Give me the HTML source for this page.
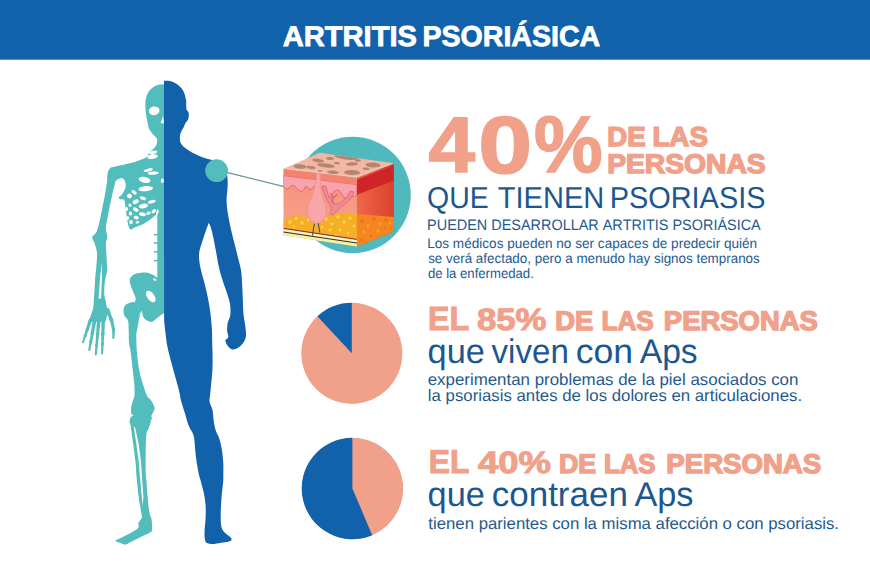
<!DOCTYPE html>
<html lang="es"><head><meta charset="utf-8"><title>Artritis psoriásica</title>
<style>html,body{margin:0;padding:0;background:#fff}body{width:870px;height:580px;overflow:hidden}svg{display:block}</style>
</head><body>
<svg width="870" height="580" viewBox="0 0 870 580">
<defs>
<linearGradient id="gR" x1="0" y1="0" x2="1" y2="0"><stop offset="0" stop-color="#f0684a"/><stop offset="1" stop-color="#d9402c"/></linearGradient>
<linearGradient id="gF" x1="0" y1="0" x2="0" y2="1"><stop offset="0" stop-color="#f68f79"/><stop offset="1" stop-color="#f9a58f"/></linearGradient>
<clipPath id="cFront"><path d="M283.5,168.7 L356.9,177.6 L356.9,246.4 L283.5,235.2 Z"/></clipPath>
<clipPath id="cRight"><path d="M356.9,177.6 L393.9,163.2 L393.9,231.4 L356.9,246.4 Z"/></clipPath>
<clipPath id="cTop"><path d="M283.5,168.7 L319.8,152.7 L393.9,163.2 L356.9,177.6 Z"/></clipPath>
</defs>
<rect width="870" height="580" fill="#fff"/>
<rect width="870" height="59.7" fill="#1162ab"/>
<g fill="#53bdbd">
<path d="M164.0,84.3C162.6,84.5 158.2,84.5 155.7,85.7C153.2,86.9 150.5,89.0 148.8,91.4C147.1,93.8 146.1,97.1 145.6,100.3C145.1,103.5 145.4,107.2 145.6,110.4C145.8,113.6 146.4,116.3 146.9,119.3C147.4,122.2 148.0,125.8 148.8,128.1C149.7,130.4 150.8,131.7 152.0,133.2C153.2,134.7 154.7,135.7 155.7,137.0C156.7,138.3 157.7,139.5 158.0,141.0C158.3,142.5 157.7,145.2 157.6,146.0C158.8,146.0 163.3,146.0 164.5,146.0C164.4,135.7 164.1,94.6 164.0,84.3Z"/>
<path d="M164.5,140.0C163.3,140.0 158.8,140.0 157.6,140.0C157.3,141.1 157.1,144.2 155.7,146.3C154.3,148.4 151.1,150.7 149.4,152.6C147.7,154.5 148.6,156.0 145.6,157.7C142.6,159.4 136.8,161.3 131.7,162.8C126.6,164.3 118.9,165.7 115.3,166.6C111.7,167.5 111.5,167.3 110.2,168.4C108.9,169.5 108.1,171.0 107.7,172.9C107.3,174.8 106.9,178.4 107.6,180.0C108.3,181.6 110.6,182.4 112.0,182.5C113.4,182.6 114.4,181.3 116.0,180.5C117.6,179.7 119.9,177.9 121.4,177.9C122.9,177.9 124.1,179.1 124.8,180.7C125.5,182.3 126.0,185.3 125.5,187.6C125.0,189.9 123.2,192.9 122.0,194.5C120.8,196.1 119.2,196.8 118.6,197.2C118.8,197.5 119.1,198.8 120.0,199.3C120.9,199.8 123.2,198.7 124.1,200.0C125.0,201.3 125.0,203.9 125.5,206.9C126.0,209.9 126.3,214.5 126.9,217.9C127.5,221.3 128.3,225.6 129.0,227.6C129.7,229.6 130.7,229.3 131.0,229.7C131.8,229.3 133.6,228.0 135.6,227.1C137.6,226.2 140.7,225.4 143.2,224.0C145.7,222.6 148.7,220.4 150.8,218.9C152.9,217.4 154.6,216.2 155.9,215.1C157.2,214.0 157.0,213.1 158.4,212.6C159.8,212.1 163.5,212.1 164.5,212.0C164.5,200.0 164.5,152.0 164.5,140.0Z"/>
<rect x="157.3" y="140" width="7.2" height="140"/>
<rect x="153.9" y="233.9" width="4.5" height="1.5"/>
<rect x="153.9" y="242.2" width="4.5" height="1.5"/>
<rect x="153.9" y="251.1" width="4.5" height="1.5"/>
<rect x="153.9" y="259.9" width="4.5" height="1.5"/>
<path d="M112.0,167.5C110.7,167.2 109.7,168.3 109.0,170.0C108.3,171.7 108.2,174.3 107.6,177.9C107.0,181.5 106.3,187.1 105.5,191.7C104.7,196.3 103.7,200.9 102.8,205.5C101.9,210.1 101.0,214.9 100.0,219.3C99.0,223.7 97.9,228.8 96.6,231.7C95.3,234.6 93.0,235.2 92.4,236.6C91.8,238.0 92.7,238.9 93.0,240.0C93.3,241.1 93.8,240.8 94.5,243.0C95.2,245.2 96.7,249.2 97.0,253.0C97.3,256.8 96.7,261.5 96.4,265.7C96.1,269.9 95.5,274.3 95.2,278.0C94.9,281.7 94.8,285.0 94.6,288.0C94.4,291.0 94.2,293.7 94.1,296.0C93.9,298.3 93.8,300.0 93.7,302.0C93.6,304.0 93.6,306.0 93.2,308.0C92.8,310.0 92.1,311.7 91.3,314.0C90.5,316.3 88.8,320.5 88.3,321.8C91.1,321.9 102.5,322.1 105.3,322.2C105.7,320.8 107.2,316.5 107.4,314.0C107.7,311.5 107.1,309.3 106.8,307.0C106.5,304.7 105.8,302.2 105.4,300.0C105.0,297.8 104.4,296.9 104.3,294.0C104.2,291.1 104.2,286.6 104.7,282.6C105.2,278.6 106.9,273.4 107.2,270.0C107.5,266.6 106.9,264.4 106.8,262.0C106.7,259.6 106.7,258.8 106.5,255.6C106.3,252.4 105.8,246.1 105.9,243.0C106.1,239.9 107.4,239.5 107.4,237.2C107.4,234.9 105.9,232.0 105.9,229.0C105.9,226.0 106.5,223.2 107.2,219.3C107.9,215.4 109.0,210.1 109.9,205.5C110.9,200.9 112.0,195.8 112.9,191.7C113.9,187.6 114.9,184.0 115.6,180.7C116.3,177.4 117.6,174.2 117.0,172.0C116.4,169.8 113.3,167.8 112.0,167.5Z"/>
<path d="M164.5,273.0C163.4,273.8 159.9,277.2 158.0,277.5C156.1,277.8 155.4,275.8 153.3,275.0C151.2,274.2 148.6,272.7 145.7,272.5C142.8,272.3 138.1,272.9 135.6,273.8C133.1,274.7 131.5,276.1 130.6,277.6C129.7,279.1 129.6,280.5 129.9,282.6C130.2,284.7 131.6,287.7 132.5,290.2C133.4,292.7 135.2,295.7 135.6,297.8C136.0,299.9 134.6,301.3 135.0,303.0C135.4,304.7 137.2,306.2 138.0,308.0C138.8,309.8 139.1,313.1 139.8,313.5C140.5,313.9 141.6,311.0 142.0,310.5C142.2,311.6 142.4,315.1 143.2,316.8C144.0,318.5 145.5,319.8 147.0,320.6C148.5,321.4 150.4,322.2 152.1,321.8C153.8,321.4 155.4,319.3 157.1,318.0C158.8,316.7 161.0,315.0 162.2,314.2C163.4,313.4 164.1,313.2 164.5,313.0C164.5,306.3 164.5,279.7 164.5,273.0Z"/>
<path d="M135.0,302.5C132.9,301.0 128.7,303.0 126.8,304.1C124.9,305.2 124.0,307.3 123.6,309.2C123.2,311.1 123.6,313.6 124.3,315.5C125.0,317.4 127.3,318.1 128.0,320.6C128.7,323.1 128.5,327.0 128.7,330.7C128.9,334.4 128.7,339.6 129.0,343.0C129.3,346.4 130.0,347.2 130.6,351.4C131.2,355.5 131.9,362.2 132.5,367.9C133.1,373.6 134.1,380.9 134.4,385.6C134.7,390.3 134.6,393.6 134.4,396.0C134.2,398.4 133.6,398.1 133.1,400.0C132.6,401.9 131.5,405.3 131.2,407.6C130.9,409.9 131.2,412.8 131.2,413.9C131.6,414.2 133.1,415.2 133.5,415.5C133.0,415.8 131.3,416.2 130.6,417.5C129.9,418.8 129.5,422.4 129.3,423.4C129.5,423.6 129.8,421.0 130.4,424.5C131.1,428.0 132.3,437.9 133.2,444.3C134.1,450.8 135.0,457.9 135.6,463.2C136.2,468.5 136.0,470.5 136.5,476.0C137.0,481.5 137.9,490.9 138.6,496.4C139.3,501.9 140.1,505.8 140.6,509.0C141.1,512.2 141.7,513.9 141.8,515.5C142.0,517.1 142.1,517.2 141.5,518.5C140.9,519.8 139.0,521.4 138.4,523.0C137.8,524.6 139.5,526.3 138.2,528.0C136.9,529.7 133.3,531.5 130.6,533.1C127.8,534.7 124.2,536.2 121.7,537.5C119.2,538.8 115.6,539.8 115.4,540.7C115.2,541.6 118.8,542.3 120.5,542.9C122.2,543.5 123.8,544.6 125.5,544.5C127.2,544.4 128.1,543.3 130.6,542.0C133.1,540.7 137.4,538.5 140.7,536.9C144.0,535.3 148.3,533.8 150.2,532.5C152.1,531.2 151.9,531.5 152.1,529.3C152.3,527.1 151.9,521.5 151.6,519.2C151.3,516.9 150.6,517.1 150.2,515.4C149.8,513.7 149.3,512.2 148.9,509.0C148.5,505.8 148.0,501.2 147.6,496.4C147.2,491.6 146.7,483.9 146.4,480.0C146.1,476.1 145.8,477.9 145.7,473.0C145.6,468.1 145.6,457.1 145.7,450.6C145.8,444.1 145.9,437.9 146.4,434.1C146.9,430.3 148.0,430.5 148.9,427.8C149.8,425.1 151.4,420.0 151.8,418.0C152.2,416.0 150.9,417.4 151.4,415.8C151.9,414.2 154.7,410.8 154.6,408.2C154.5,405.6 152.1,402.1 150.8,400.0C149.5,397.9 148.4,398.5 147.0,395.7C145.6,392.9 144.0,387.6 142.6,383.0C141.2,378.4 139.8,373.2 138.8,367.9C137.9,362.6 137.3,356.9 136.9,351.4C136.5,345.9 136.3,338.4 136.3,335.0C136.3,331.6 136.5,333.1 136.9,330.7C137.3,328.3 138.4,323.6 138.8,320.6C139.2,317.7 140.2,316.0 139.6,313.0C139.0,310.0 137.1,304.0 135.0,302.5Z"/>
</g>
<g fill="#53bdbd">
<path d="M88.9,318.9 L82.1,341.9 L83.9,342.5 L92.3,320.1 Z"/>
<circle cx="83.0" cy="342.2" r="1.00"/>
<circle cx="87.4" cy="329.0" r="1.81"/>
<circle cx="85.1" cy="335.8" r="1.57"/>
<path d="M92.8,320.2 L88.3,349.8 L90.3,350.2 L96.4,320.8 Z"/>
<circle cx="89.3" cy="350.0" r="1.00"/>
<circle cx="92.4" cy="332.9" r="1.84"/>
<circle cx="90.8" cy="341.7" r="1.59"/>
<path d="M97.0,320.3 L94.8,354.5 L96.8,354.7 L100.6,320.7 Z"/>
<circle cx="95.8" cy="354.6" r="1.00"/>
<circle cx="97.5" cy="334.8" r="1.84"/>
<circle cx="96.6" cy="345.1" r="1.59"/>
<path d="M101.5,319.4 L101.1,353.4 L103.1,353.4 L105.1,319.6 Z"/>
<circle cx="102.1" cy="353.4" r="1.00"/>
<circle cx="102.8" cy="333.7" r="1.84"/>
<circle cx="102.4" cy="343.9" r="1.59"/>
<path d="M105.2,309.2 L110.1,321.1 L113.1,319.9 L108.8,307.8 Z"/>
<circle cx="111.6" cy="320.5" r="1.60"/>
<circle cx="111.1" cy="319.3" r="1.98"/>
<path d="M110.0,320.8 L112.2,330.3 L115.0,329.7 L113.2,320.2 Z"/>
<circle cx="113.6" cy="330.0" r="1.40"/>
<circle cx="113.5" cy="329.5" r="1.76"/>
<path d="M112.2,330.0 L112.4,338.0 L114.4,338.0 L115.0,330.0 Z"/>
<circle cx="113.4" cy="338.0" r="1.00"/>
</g>
<ellipse cx="154.2" cy="110.8" rx="5.3" ry="4.3" transform="rotate(-12 154.2 110.8)" fill="#fff"/>
<path d="M163,116.3 L160.6,123 L164.2,123.6 Z" fill="#fff"/>
<ellipse cx="153.2" cy="152.4" rx="4.1" ry="1.6" transform="rotate(-12 153.2 152.4)" fill="#fff"/>
<ellipse cx="152.4" cy="156.6" rx="5.4" ry="2.3" transform="rotate(-8 152.4 156.6)" fill="#fff"/>
<ellipse cx="148.2" cy="170.1" rx="4.8" ry="1.5" transform="rotate(-15 148.2 170.1)" fill="#fff"/>
<ellipse cx="153.2" cy="173.1" rx="5.4" ry="1.6" transform="rotate(-3 153.2 173.1)" fill="#fff"/>
<ellipse cx="144.6" cy="179.8" rx="6.0" ry="2.9" transform="rotate(12 144.6 179.8)" fill="#fff"/>
<ellipse cx="162.4" cy="180.7" rx="1.5" ry="2.3" transform="rotate(0 162.4 180.7)" fill="#fff"/>
<ellipse cx="145.8" cy="188.7" rx="7.3" ry="2.6" transform="rotate(-5 145.8 188.7)" fill="#fff"/>
<ellipse cx="134.1" cy="192.4" rx="3.0" ry="1.6" transform="rotate(35 134.1 192.4)" fill="#fff"/>
<ellipse cx="129.5" cy="196.0" rx="2.5" ry="2.4" transform="rotate(40 129.5 196.0)" fill="#fff"/>
<ellipse cx="142.9" cy="198.3" rx="3.2" ry="1.6" transform="rotate(20 142.9 198.3)" fill="#fff"/>
<ellipse cx="135.7" cy="201.7" rx="3.2" ry="2.1" transform="rotate(-25 135.7 201.7)" fill="#fff"/>
<ellipse cx="151.7" cy="201.7" rx="4.0" ry="1.6" transform="rotate(-15 151.7 201.7)" fill="#fff"/>
<ellipse cx="143.4" cy="206.0" rx="4.6" ry="2.2" transform="rotate(-10 143.4 206.0)" fill="#fff"/>
<ellipse cx="130.0" cy="205.2" rx="1.5" ry="1.7" transform="rotate(0 130.0 205.2)" fill="#fff"/>
<ellipse cx="126.9" cy="209.1" rx="1.2" ry="2.0" transform="rotate(0 126.9 209.1)" fill="#fff"/>
<ellipse cx="135.7" cy="209.6" rx="3.1" ry="1.8" transform="rotate(30 135.7 209.6)" fill="#fff"/>
<ellipse cx="130.5" cy="213.5" rx="1.8" ry="2.0" transform="rotate(0 130.5 213.5)" fill="#fff"/>
<ellipse cx="142.4" cy="214.3" rx="3.5" ry="1.8" transform="rotate(15 142.4 214.3)" fill="#fff"/>
<ellipse cx="127.9" cy="217.9" rx="1.2" ry="2.0" transform="rotate(0 127.9 217.9)" fill="#fff"/>
<ellipse cx="136.2" cy="217.6" rx="2.6" ry="1.8" transform="rotate(15 136.2 217.6)" fill="#fff"/>
<ellipse cx="131.0" cy="222.1" rx="1.9" ry="2.1" transform="rotate(0 131.0 222.1)" fill="#fff"/>
<ellipse cx="137.5" cy="222.3" rx="1.9" ry="1.3" transform="rotate(-10 137.5 222.3)" fill="#fff"/>
<ellipse cx="148.5" cy="213.2" rx="2.4" ry="1.5" transform="rotate(-25 148.5 213.2)" fill="#fff"/>
<ellipse cx="153.8" cy="211.2" rx="2.6" ry="1.7" transform="rotate(-40 153.8 211.2)" fill="#fff"/>
<ellipse cx="157.4" cy="212.2" rx="1.1" ry="2.8" transform="rotate(15 157.4 212.2)" fill="#fff"/>
<ellipse cx="150.8" cy="296.5" rx="3.6" ry="6.6" transform="rotate(-35 150.8 296.5)" fill="#fff"/>
<ellipse cx="154.8" cy="279.6" rx="1.8" ry="1.1" transform="rotate(30 154.8 279.6)" fill="#fff"/>
<path d="M101.9,263 L102.0,276 L101.1,298.6 L98.6,298.6 L100.2,276 Z" fill="#fff"/>
<path d="M133.6,426 L136.4,444 L138.9,463 L139.9,476 L141.8,497 L142.6,506 L143.4,497 L141.9,476 L141.2,463 L138.7,444 L135.2,428 Z" fill="#fff"/>
<path d="M164.0,80.7C165.0,80.8 168.0,80.5 170.0,81.0C172.0,81.5 174.2,82.5 176.0,83.6C177.8,84.6 179.2,85.9 180.5,87.3C181.8,88.7 182.9,89.8 183.8,92.0C184.7,94.2 185.7,97.5 186.1,100.3C186.5,103.1 186.0,107.0 186.4,109.1C186.8,111.2 188.4,111.2 188.7,112.9C189.0,114.6 188.7,117.6 188.2,119.3C187.7,121.0 186.3,121.6 185.5,123.0C184.7,124.4 184.2,126.2 183.6,127.5C183.0,128.8 182.3,129.4 181.7,130.8C181.1,132.2 180.2,133.8 180.0,135.7C179.8,137.6 179.7,140.2 180.3,142.0C180.9,143.8 181.7,144.9 183.4,146.5C185.1,148.1 187.8,149.9 190.4,151.5C193.1,153.1 196.4,154.6 199.3,155.9C202.2,157.2 205.3,158.2 208.1,159.1C210.9,159.9 213.6,160.0 216.0,161.0C218.4,162.0 220.8,163.3 222.5,165.0C224.2,166.7 225.5,168.5 226.3,171.0C227.2,173.5 227.4,176.8 227.6,180.0C227.8,183.2 227.6,186.7 227.4,190.0C227.2,193.3 226.6,196.2 226.6,200.0C226.6,203.8 227.0,207.8 227.7,212.6C228.4,217.4 229.7,223.7 230.9,229.0C232.1,234.3 233.5,239.7 234.7,244.3C235.8,249.0 236.8,252.6 237.8,256.9C238.9,261.2 240.3,265.3 241.0,270.0C241.7,274.7 241.9,279.9 242.2,285.2C242.5,290.5 242.7,296.8 242.9,301.6C243.1,306.5 243.1,310.1 243.5,314.3C243.9,318.5 245.0,323.3 245.4,326.9C245.8,330.5 246.3,333.1 246.0,335.7C245.7,338.3 244.8,340.6 243.5,342.6C242.2,344.6 240.3,346.5 238.4,347.6C236.5,348.8 234.0,349.9 232.1,349.5C230.2,349.1 228.2,346.7 227.1,345.1C225.9,343.5 225.5,340.9 225.2,340.0C225.7,339.5 228.0,338.6 228.3,337.0C228.6,335.4 227.2,333.0 227.1,330.7C227.0,328.4 227.2,325.6 227.7,323.1C228.2,320.6 229.8,318.4 230.2,315.5C230.6,312.6 230.6,308.8 230.2,305.4C229.8,302.0 228.8,299.1 227.7,295.3C226.5,291.5 224.7,286.8 223.3,282.6C221.9,278.4 220.6,274.3 219.5,270.0C218.4,265.7 217.8,261.4 217.0,256.9C216.2,252.4 215.3,247.7 214.4,243.0C213.5,238.3 212.2,232.4 211.3,229.0C210.4,225.6 209.1,223.8 208.7,222.8C208.2,224.3 206.8,228.2 205.6,231.6C204.4,235.0 202.9,239.6 201.8,243.0C200.8,246.4 199.7,248.9 199.3,251.8C198.9,254.8 199.0,257.5 199.3,260.7C199.6,263.9 200.4,267.4 201.2,271.0C202.0,274.6 203.2,277.9 204.3,282.6C205.5,287.3 207.1,293.7 208.1,299.0C209.1,304.3 210.0,309.2 210.6,314.3C211.2,319.4 211.6,324.6 211.9,329.4C212.2,334.2 212.1,339.3 212.2,343.0C212.3,346.7 212.4,347.2 212.5,351.4C212.6,355.5 212.7,362.6 212.5,367.9C212.3,373.2 211.7,378.4 211.3,383.0C210.9,387.6 210.3,392.5 210.0,395.7C209.7,398.9 209.2,399.6 209.6,402.0C210.0,404.4 211.8,406.9 212.5,410.1C213.2,413.4 213.3,418.1 213.8,421.5C214.3,424.9 214.8,427.4 215.7,430.3C216.6,433.2 218.4,435.8 219.5,439.2C220.6,442.6 221.4,446.6 222.0,450.6C222.6,454.6 223.1,459.5 223.3,463.2C223.5,466.9 223.3,470.2 223.3,473.0C223.3,475.8 223.5,476.7 223.3,480.0C223.1,483.3 222.4,488.4 222.0,492.6C221.6,496.8 221.2,501.1 221.0,505.3C220.8,509.5 220.6,514.3 220.7,517.9C220.8,521.5 220.9,524.5 221.4,526.8C221.9,529.1 222.8,530.3 223.9,531.8C225.1,533.3 227.0,534.4 228.3,535.6C229.6,536.8 231.3,537.8 231.5,538.8C231.7,539.8 231.0,540.7 229.6,541.3C228.2,541.9 225.8,542.2 223.3,542.6C220.8,543.0 217.0,543.8 214.4,543.9C211.8,544.0 209.1,544.0 207.5,543.2C205.9,542.5 205.4,541.5 204.9,539.4C204.4,537.3 204.5,534.2 204.6,530.6C204.7,527.0 205.4,522.1 205.6,517.9C205.8,513.7 205.9,509.5 205.6,505.3C205.3,501.1 204.5,496.8 203.7,492.6C202.8,488.4 201.3,483.3 200.5,480.0C199.7,476.7 199.3,476.6 198.6,473.0C197.9,469.4 196.7,462.8 196.1,458.2C195.5,453.6 195.2,449.3 194.8,445.5C194.4,441.7 194.7,438.8 193.6,435.4C192.5,432.0 190.0,429.1 188.5,425.3C187.0,421.5 186.0,416.8 184.7,412.6C183.4,408.4 181.8,403.7 180.9,400.0C180.0,396.3 179.9,394.5 179.0,390.6C178.1,386.7 176.5,381.3 175.2,376.7C173.9,372.1 172.7,367.6 171.4,362.8C170.1,358.0 168.6,352.2 167.6,347.6C166.6,343.0 166.3,339.5 165.7,335.0C165.1,330.5 164.4,323.0 164.1,320.6C164.1,280.6 164.0,120.7 164.0,80.7Z" fill="#1162ab"/>
<circle cx="216.6" cy="170.7" r="11.4" fill="#53bdbd"/>
<line x1="227.6" y1="172.6" x2="284" y2="186.6" stroke="#6f9494" stroke-width="1.3"/>
<circle cx="352.6" cy="195" r="58.2" fill="#4fb9be"/>
<g clip-path="url(#cRight)">
<rect x="356" y="160" width="40" height="90" fill="url(#gR)"/>
<path d="M356.9,179.6 L393.9,165.2 L393.9,180.5 L356.9,194.8 Z" fill="#cf2529"/>
<path d="M356.9,214 L393.9,217 L393.9,232 L356.9,247 Z" fill="#f4851f"/>
<circle cx="362.0" cy="221.0" r="1.6" fill="#e8701a"/>
<circle cx="368.0" cy="226.0" r="1.3" fill="#f9a33a"/>
<circle cx="374.0" cy="219.0" r="1.7" fill="#e8701a"/>
<circle cx="380.0" cy="224.0" r="1.4" fill="#f9a33a"/>
<circle cx="386.0" cy="220.0" r="1.5" fill="#e8701a"/>
<circle cx="364.0" cy="232.0" r="1.5" fill="#f9a33a"/>
<circle cx="371.0" cy="236.0" r="1.2" fill="#e8701a"/>
<circle cx="378.0" cy="231.0" r="1.5" fill="#f9a33a"/>
<circle cx="385.0" cy="228.0" r="1.2" fill="#e8701a"/>
<circle cx="390.0" cy="223.0" r="1.1" fill="#f9a33a"/>
<circle cx="362.0" cy="240.0" r="1.2" fill="#e8701a"/>
</g>
<g clip-path="url(#cFront)">
<rect x="283" y="165" width="75" height="85" fill="url(#gF)"/>
<path d="M283.5,175.6 L356.9,184.6 L356.9,194 Q353.5,199.5 350,193.5 Q346.5,203 341.5,194 Q338,187.5 334,191.5 Q330,201.5 326,192 Q324.5,188.5 322.5,188 L313.5,186.8 Q310.5,192.5 306,186 Q301.5,196 296.5,188 Q292,182.5 288.5,188.5 Q286,190.5 283.5,186 Z" fill="#f9a3ad" stroke="#e5626f" stroke-width="0.9"/>
<path d="M283.5,169 L356.9,178 L356.9,184.6 L283.5,175.6 Z" fill="#f3836e"/>
<path d="M283.5,221 Q292,214 300,216 Q308,217 313,222 L320,222 Q328,213 340,213 Q350,213 356.9,214.5 L356.9,239 L283.5,228 Z" fill="#f6ae24"/>
<circle cx="290.0" cy="222.0" r="1.8" fill="#fbd352"/>
<circle cx="296.0" cy="218.5" r="1.6" fill="#fbd352"/>
<circle cx="302.0" cy="223.0" r="1.7" fill="#fbd352"/>
<circle cx="308.0" cy="220.0" r="1.4" fill="#fbd352"/>
<circle cx="326.0" cy="219.0" r="1.8" fill="#fbd352"/>
<circle cx="332.0" cy="224.0" r="1.6" fill="#fbd352"/>
<circle cx="338.0" cy="217.0" r="1.8" fill="#fbd352"/>
<circle cx="344.0" cy="222.0" r="1.7" fill="#fbd352"/>
<circle cx="350.0" cy="218.0" r="1.6" fill="#fbd352"/>
<circle cx="354.0" cy="226.0" r="1.5" fill="#fbd352"/>
<circle cx="330.0" cy="230.0" r="1.5" fill="#fbd352"/>
<circle cx="340.0" cy="230.0" r="1.6" fill="#fbd352"/>
<circle cx="348.0" cy="233.0" r="1.4" fill="#fbd352"/>
<circle cx="294.0" cy="226.5" r="1.3" fill="#fbd352"/>
<circle cx="322.0" cy="227.0" r="1.4" fill="#fbd352"/>
<circle cx="336.0" cy="235.0" r="1.2" fill="#fbd352"/>
<path d="M283.5,227.8 L356.9,238.8 L356.9,247 L283.5,236 Z" fill="#f7f0a0"/>
<path d="M283.5,228.3 L356.9,239.3" stroke="#a8331f" stroke-width="1.2"/>
<path d="M283.5,230.2 L356.9,241.2" stroke="#fff6e0" stroke-width="1.2"/>
<path d="M283.5,232 L356.9,243" stroke="#2e2e30" stroke-width="1.1"/>
<path d="M322,186 Q324,196 329,203 Q333,209 330,214 L333,215 Q338,209 345,204 Q352,199 354,192 L350,191 Q347,199 340,203 Q334,206 330,199 Q327,193 326,186 Z" fill="#ee8a93" stroke="#e0646f" stroke-width="0.8"/>
<path d="M330,193 q3,2 2,5 q4,-1 5,-4 M333,198 q-1,4 1,6" stroke="#df6470" stroke-width="1.3" fill="none"/>
<path d="M316.6,173 L320.2,173.5 Q320.5,190 322.5,197 Q327.5,207 326,215 Q323,224 316,223.6 Q308.5,222 307.5,213 Q307,205 311.5,197 Q315.5,190 316.6,173 Z" fill="#f9a6a8" stroke="#ef8e8e" stroke-width="0.8"/>
<path d="M314.3,223.8 L312.5,235.6 M318.3,223.4 L319.8,232.6" stroke="#3a4658" stroke-width="1"/>
</g>
<g clip-path="url(#cTop)">
<rect x="280" y="150" width="116" height="30" fill="#f2b8a5"/>
<path d="M283.5,168.7 L356.9,177.6 L393.9,163.2" stroke="#f8c7b3" stroke-width="2" fill="none"/>
<ellipse cx="300.0" cy="166.5" rx="6.5" ry="2.2" transform="rotate(5 300.0 166.5)" fill="#b5866f"/>
<ellipse cx="311.0" cy="167.5" rx="4.5" ry="1.6" transform="rotate(8 311.0 167.5)" fill="#b5866f"/>
<ellipse cx="318.0" cy="160.5" rx="6.0" ry="1.8" transform="rotate(8 318.0 160.5)" fill="#b5866f"/>
<ellipse cx="330.0" cy="158.5" rx="4.0" ry="1.5" transform="rotate(5 330.0 158.5)" fill="#b5866f"/>
<ellipse cx="326.0" cy="165.5" rx="9.0" ry="2.1" transform="rotate(6 326.0 165.5)" fill="#b5866f"/>
<ellipse cx="346.0" cy="157.5" rx="12.0" ry="1.9" transform="rotate(7 346.0 157.5)" fill="#b5866f"/>
<ellipse cx="337.0" cy="163.2" rx="3.0" ry="1.1" transform="rotate(5 337.0 163.2)" fill="#b5866f"/>
<ellipse cx="352.0" cy="164.0" rx="6.0" ry="1.7" transform="rotate(-3 352.0 164.0)" fill="#b5866f"/>
<ellipse cx="333.0" cy="172.3" rx="6.0" ry="1.7" transform="rotate(5 333.0 172.3)" fill="#b5866f"/>
<ellipse cx="352.0" cy="172.5" rx="8.0" ry="2.5" transform="rotate(3 352.0 172.5)" fill="#b5866f"/>
<ellipse cx="373.0" cy="165.0" rx="7.5" ry="2.5" transform="rotate(3 373.0 165.0)" fill="#b5866f"/>
<ellipse cx="366.0" cy="168.8" rx="3.5" ry="1.2" transform="rotate(3 366.0 168.8)" fill="#b5866f"/>
<ellipse cx="320.0" cy="171.0" rx="2.0" ry="0.9" transform="rotate(0 320.0 171.0)" fill="#b5866f"/>
<ellipse cx="358.0" cy="160.5" rx="3.0" ry="1.2" transform="rotate(0 358.0 160.5)" fill="#b5866f"/>
</g>
<circle cx="351.8" cy="353.3" r="50.0" fill="#f1a08a"/>
<path d="M351.80,353.30 L351.80,302.80 A50.50,50.50 0 1 1 317.36,316.37 Z" fill="#f1a08a"/>
<path d="M351.80,353.30 L317.36,316.37 A50.50,50.50 0 0 1 351.80,302.80 Z" fill="#1162ab"/>
<circle cx="352.4" cy="488.5" r="50.2" fill="#1162ab"/>
<path d="M352.40,488.50 L372.21,535.17 A50.70,50.70 0 1 1 352.40,437.80 Z" fill="#1162ab"/>
<path d="M352.40,488.50 L352.40,437.80 A50.70,50.70 0 0 1 372.21,535.17 Z" fill="#f1a08a"/>
<g style="font-kerning:none;text-rendering:geometricPrecision">
<text x="282.78" y="46.40" font-size="28.63" fill="#fff" font-family="Liberation Sans, Arial, sans-serif" font-weight="700" stroke="#fff" stroke-width="0.80" stroke-linejoin="miter" textLength="134.16" lengthAdjust="spacingAndGlyphs">ARTRITIS</text>
<text x="422.49" y="46.40" font-size="28.63" fill="#fff" font-family="Liberation Sans, Arial, sans-serif" font-weight="700" stroke="#fff" stroke-width="0.80" stroke-linejoin="miter" textLength="177.66" lengthAdjust="spacingAndGlyphs">PSORIÁSICA</text>
<text x="428.63" y="171.80" font-size="78.63" fill="#f1a08a" font-family="Liberation Sans, Arial, sans-serif" font-weight="700" stroke="#f1a08a" stroke-width="1.60" stroke-linejoin="miter" textLength="46.52" lengthAdjust="spacingAndGlyphs">4</text>
<text x="478.37" y="172.50" font-size="80.81" fill="#f1a08a" font-family="Liberation Sans, Arial, sans-serif" font-weight="700" stroke="#f1a08a" stroke-width="1.60" stroke-linejoin="miter" textLength="53.79" lengthAdjust="spacingAndGlyphs">0</text>
<text x="534.08" y="172.20" font-size="80.23" fill="#f1a08a" font-family="Liberation Sans, Arial, sans-serif" font-weight="700" stroke="#f1a08a" stroke-width="1.60" stroke-linejoin="miter" textLength="68.55" lengthAdjust="spacingAndGlyphs">%</text>
<text x="607.25" y="145.80" font-size="27.18" fill="#f1a08a" font-family="Liberation Sans, Arial, sans-serif" font-weight="700" stroke="#f1a08a" stroke-width="1.40" stroke-linejoin="miter" textLength="38.43" lengthAdjust="spacingAndGlyphs">DE</text>
<text x="652.45" y="145.80" font-size="27.18" fill="#f1a08a" font-family="Liberation Sans, Arial, sans-serif" font-weight="700" stroke="#f1a08a" stroke-width="1.40" stroke-linejoin="miter" textLength="55.44" lengthAdjust="spacingAndGlyphs">LAS</text>
<text x="607.21" y="172.90" font-size="26.89" fill="#f1a08a" font-family="Liberation Sans, Arial, sans-serif" font-weight="700" stroke="#f1a08a" stroke-width="1.40" stroke-linejoin="miter" textLength="158.49" lengthAdjust="spacingAndGlyphs">PERSONAS</text>
<text x="427.05" y="207.50" font-size="30.23" fill="#1c588f" font-family="Liberation Sans, Arial, sans-serif" textLength="61.67" lengthAdjust="spacingAndGlyphs">QUE</text>
<text x="497.65" y="207.50" font-size="30.23" fill="#1c588f" font-family="Liberation Sans, Arial, sans-serif" textLength="106.73" lengthAdjust="spacingAndGlyphs">TIENEN</text>
<text x="609.63" y="207.50" font-size="30.23" fill="#1c588f" font-family="Liberation Sans, Arial, sans-serif" textLength="155.90" lengthAdjust="spacingAndGlyphs">PSORIASIS</text>
<text x="427.12" y="229.60" font-size="15.12" fill="#245a8e" font-family="Liberation Sans, Arial, sans-serif" textLength="333.61" lengthAdjust="spacingAndGlyphs">PUEDEN DESARROLLAR ARTRITIS PSORIÁSICA</text>
<text x="427.19" y="247.60" font-size="13.81" fill="#245a8e" font-family="Liberation Sans, Arial, sans-serif" textLength="330.00" lengthAdjust="spacingAndGlyphs">Los médicos pueden no ser capaces de predecir quién</text>
<text x="428.13" y="262.80" font-size="13.81" fill="#245a8e" font-family="Liberation Sans, Arial, sans-serif" textLength="331.66" lengthAdjust="spacingAndGlyphs">se verá afectado, pero a menudo hay signos tempranos</text>
<text x="427.95" y="278.00" font-size="13.81" fill="#245a8e" font-family="Liberation Sans, Arial, sans-serif" textLength="105.85" lengthAdjust="spacingAndGlyphs">de la enfermedad.</text>
<text x="428.04" y="329.80" font-size="33.43" fill="#f1a08a" font-family="Liberation Sans, Arial, sans-serif" font-weight="700" stroke="#f1a08a" stroke-width="1.00" stroke-linejoin="miter" textLength="41.25" lengthAdjust="spacingAndGlyphs">EL</text>
<text x="477.00" y="329.90" font-size="30.81" fill="#f1a08a" font-family="Liberation Sans, Arial, sans-serif" font-weight="700" stroke="#f1a08a" stroke-width="1.00" stroke-linejoin="miter" textLength="69.42" lengthAdjust="spacingAndGlyphs">85%</text>
<text x="555.37" y="329.60" font-size="27.03" fill="#f1a08a" font-family="Liberation Sans, Arial, sans-serif" font-weight="700" stroke="#f1a08a" stroke-width="1.40" stroke-linejoin="miter" textLength="38.00" lengthAdjust="spacingAndGlyphs">DE</text>
<text x="601.46" y="329.60" font-size="27.03" fill="#f1a08a" font-family="Liberation Sans, Arial, sans-serif" font-weight="700" stroke="#f1a08a" stroke-width="1.40" stroke-linejoin="miter" textLength="52.16" lengthAdjust="spacingAndGlyphs">LAS</text>
<text x="663.86" y="329.60" font-size="27.03" fill="#f1a08a" font-family="Liberation Sans, Arial, sans-serif" font-weight="700" stroke="#f1a08a" stroke-width="1.40" stroke-linejoin="miter" textLength="154.01" lengthAdjust="spacingAndGlyphs">PERSONAS</text>
<text x="427.56" y="363.30" font-size="34.30" fill="#1c588f" font-family="Liberation Sans, Arial, sans-serif" textLength="57.27" lengthAdjust="spacingAndGlyphs">que</text>
<text x="491.59" y="363.30" font-size="34.30" fill="#1c588f" font-family="Liberation Sans, Arial, sans-serif" textLength="77.26" lengthAdjust="spacingAndGlyphs">viven</text>
<text x="575.69" y="363.30" font-size="34.30" fill="#1c588f" font-family="Liberation Sans, Arial, sans-serif" textLength="57.43" lengthAdjust="spacingAndGlyphs">con</text>
<text x="639.73" y="363.30" font-size="34.30" fill="#1c588f" font-family="Liberation Sans, Arial, sans-serif" textLength="57.98" lengthAdjust="spacingAndGlyphs">Aps</text>
<text x="427.68" y="385.00" font-size="16.50" fill="#245a8e" font-family="Liberation Sans, Arial, sans-serif" textLength="370.71" lengthAdjust="spacingAndGlyphs">experimentan problemas de la piel asociados con</text>
<text x="427.87" y="400.70" font-size="16.50" fill="#245a8e" font-family="Liberation Sans, Arial, sans-serif" textLength="374.26" lengthAdjust="spacingAndGlyphs">la psoriasis antes de los dolores en articulaciones.</text>
<text x="428.87" y="472.90" font-size="33.14" fill="#f1a08a" font-family="Liberation Sans, Arial, sans-serif" font-weight="700" stroke="#f1a08a" stroke-width="1.00" stroke-linejoin="miter" textLength="40.71" lengthAdjust="spacingAndGlyphs">EL</text>
<text x="477.95" y="473.00" font-size="30.81" fill="#f1a08a" font-family="Liberation Sans, Arial, sans-serif" font-weight="700" stroke="#f1a08a" stroke-width="1.00" stroke-linejoin="miter" textLength="72.91" lengthAdjust="spacingAndGlyphs">40%</text>
<text x="558.91" y="472.70" font-size="27.03" fill="#f1a08a" font-family="Liberation Sans, Arial, sans-serif" font-weight="700" stroke="#f1a08a" stroke-width="1.40" stroke-linejoin="miter" textLength="37.24" lengthAdjust="spacingAndGlyphs">DE</text>
<text x="603.98" y="472.70" font-size="27.03" fill="#f1a08a" font-family="Liberation Sans, Arial, sans-serif" font-weight="700" stroke="#f1a08a" stroke-width="1.40" stroke-linejoin="miter" textLength="51.32" lengthAdjust="spacingAndGlyphs">LAS</text>
<text x="666.35" y="472.70" font-size="27.03" fill="#f1a08a" font-family="Liberation Sans, Arial, sans-serif" font-weight="700" stroke="#f1a08a" stroke-width="1.40" stroke-linejoin="miter" textLength="154.82" lengthAdjust="spacingAndGlyphs">PERSONAS</text>
<text x="427.56" y="505.60" font-size="34.30" fill="#1c588f" font-family="Liberation Sans, Arial, sans-serif" textLength="57.27" lengthAdjust="spacingAndGlyphs">que</text>
<text x="491.81" y="505.50" font-size="34.30" fill="#1c588f" font-family="Liberation Sans, Arial, sans-serif" textLength="136.06" lengthAdjust="spacingAndGlyphs">contraen</text>
<text x="634.43" y="505.50" font-size="34.30" fill="#1c588f" font-family="Liberation Sans, Arial, sans-serif" textLength="59.11" lengthAdjust="spacingAndGlyphs">Aps</text>
<text x="428.35" y="528.50" font-size="16.50" fill="#245a8e" font-family="Liberation Sans, Arial, sans-serif" textLength="410.68" lengthAdjust="spacingAndGlyphs">tienen parientes con la misma afección o con psoriasis.</text>
</g>
</svg>
</body></html>
